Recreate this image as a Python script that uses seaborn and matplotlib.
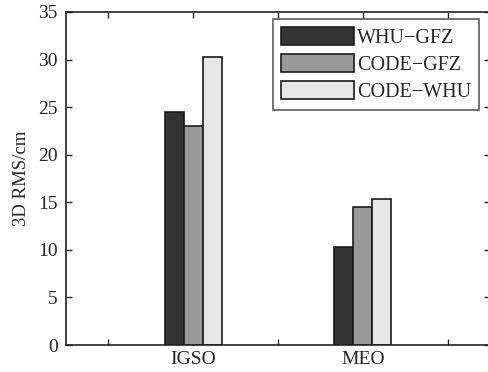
import matplotlib
matplotlib.use("Agg")
import matplotlib.pyplot as plt
import seaborn as sns
import pandas as pd

categories = ["IGSO", "MEO"]
series = ["WHU\u2212GFZ", "CODE\u2212GFZ", "CODE\u2212WHU"]
whu_gfz = [24.5, 10.3]
code_gfz = [23.0, 14.5]
code_whu = [30.3, 15.3]
colors = ["#333333", "#999999", "#e6e6e6"]

rows = []
for s, vals in zip(series, [whu_gfz, code_gfz, code_whu]):
    for c, v in zip(categories, vals):
        rows.append({"cat": c, "series": s, "val": v})
df = pd.DataFrame(rows)

sns.set_style("ticks")
plt.rcParams["font.family"] = ["Liberation Serif", "DejaVu Serif"]

fig = plt.figure(figsize=(4.88, 3.72), dpi=100)
ax = fig.add_axes([66/488, 27/372, (490-66)/488, (344-11)/372])
sns.barplot(data=df, x="cat", y="val", hue="series", palette=colors,
            width=0.338, edgecolor="#1a1a1a", linewidth=1.2, ax=ax,
            errorbar=None, saturation=1)

ax.set_xlim(-0.75, 1.75)
ax.set_ylim(0, 35)
ax.set_xticks([-0.5, 0, 0.5, 1, 1.5])
ax.set_xticklabels(["", "IGSO", "", "MEO", ""], fontsize=14)
ax.set_yticks(range(0, 36, 5))
ax.tick_params(axis="y", labelsize=14, pad=6)
ax.tick_params(axis="x", pad=4)
ax.tick_params(direction="in", top=True, right=True, length=4, width=1, color="#222222")
ax.set_xlabel("")
ax.set_ylabel("3D RMS/cm", fontsize=13.5, labelpad=6)
for sp in ax.spines.values():
    sp.set_visible(True)
    sp.set_linewidth(1.2)
    sp.set_color("#222222")

leg = ax.legend(loc="upper right", bbox_to_anchor=(479/488, 1 - 19/372), bbox_transform=fig.transFigure,
                fontsize=14.5, frameon=True, fancybox=False, edgecolor="#333333",
                handlelength=3.6, handleheight=1.0, handletextpad=0.15,
                labelspacing=0.3, borderpad=0.4, borderaxespad=0)
leg.get_frame().set_linewidth(1.2)

fig.savefig("out.png", dpi=100)
